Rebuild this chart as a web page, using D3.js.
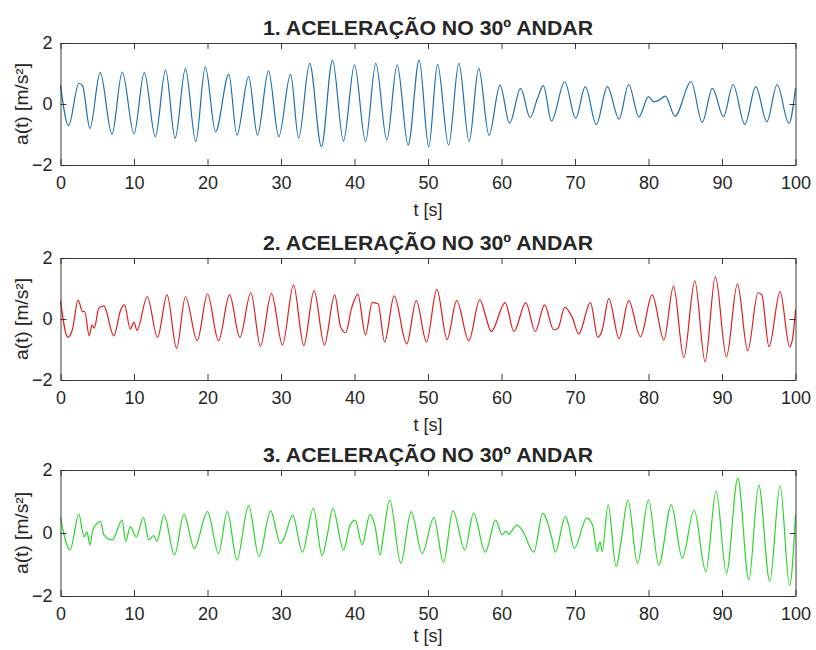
<!DOCTYPE html>
<html lang="pt">
<head>
    <meta charset="UTF-8">
    <title>Aceleração no 30º andar</title>
    <style>
        body {
            margin: 0;
            background: #fff;
        }
        svg text {
            font-family: "Liberation Sans", Arial, sans-serif;
            fill: #262626;
        }
    </style>
</head>
<body>
    <svg id="chart" width="816" height="650"></svg>
    <script src="https://d3js.org/d3.v7.min.js"></script>
    <script>
        // valores (t em s, a em m/s²)
        const t1 = [0, 1.1, 2.5, 3.0, 4.0, 5.4, 7.0, 8.4, 10.0, 11.4, 12.9, 14.3, 15.6, 17.0, 18.4, 19.7, 21.1, 22.9, 24.0, 25.6, 26.8, 28.3, 29.7, 31.3, 32.4, 33.9, 35.5, 37.0, 38.5, 40.0, 41.5, 42.9, 44.4, 45.8, 47.3, 48.8, 50.1, 51.3, 52.8, 54.2, 55.6, 56.9, 58.3, 59.8, 61.1, 62.6, 63.9, 64.9, 65.7, 66.8, 68.6, 70.1, 71.4, 72.9, 74.4, 76.0, 77.3, 78.7, 80.0, 80.7, 81.4, 82.3, 83.6, 85.8, 87.3, 88.7, 90.2, 91.5, 93.1, 94.6, 96.1, 97.5, 99.1, 100];
        const a1 = [0.62, -0.71, 0.68, 0.6, -0.8, 1.03, -0.99, 1.05, -0.97, 1.03, -1.07, 1.11, -1.12, 1.16, -1.23, 1.22, -0.91, 0.97, -1.02, 0.9, -1.02, 1.08, -1.07, 0.97, -1.12, 1.33, -1.4, 1.44, -1.21, 1.28, -1.23, 1.33, -1.18, 1.28, -1.35, 1.44, -1.4, 1.3, -1.35, 1.33, -1.23, 1.17, -1.02, 0.62, -0.63, 0.51, -0.45, 0.19, 0.6, -0.56, 0.73, -0.47, 0.57, -0.67, 0.57, -0.49, 0.64, -0.42, 0.24, 0.08, 0.12, 0.26, -0.4, 0.73, -0.6, 0.51, -0.42, 0.64, -0.67, 0.57, -0.58, 0.64, -0.64, 0.51];

        const t2 = [0, 1.0, 1.6, 2.4, 3.0, 3.3, 3.9, 4.3, 4.6, 5.2, 5.9, 7.25, 8.2, 8.7, 9.5, 10.0, 10.4, 11.8, 13.2, 14.5, 15.8, 17.0, 18.6, 20.0, 21.5, 23.0, 24.4, 25.9, 27.2, 28.7, 30.2, 31.7, 33.1, 34.5, 35.9, 37.3, 38.1, 38.8, 39.6, 40.45, 41.5, 42.4, 43.2, 44.1, 45.4, 47.1, 48.4, 49.8, 51.2, 52.6, 53.9, 55.55, 57.05, 57.8, 58.6, 60.5, 61.7, 63.3, 64.6, 65.85, 67.1, 67.7, 68.6, 69.6, 70.5, 72.1, 73.1, 73.7, 74.6, 76.0, 77.3, 78.9, 80.5, 82.1, 83.4, 84.8, 86.3, 87.7, 89.1, 90.6, 92.1, 93.5, 94.9, 95.4, 96.4, 97.9, 99.2, 99.6, 100];
        const a2 = [0.6, -0.6, -0.36, 0.62, 0.24, 0.24, -0.55, -0.2, -0.3, 0.35, 0.43, -0.55, 0.3, 0.46, -0.33, -0.1, -0.37, 0.73, -0.6, 0.79, -0.96, 0.73, -0.71, 0.82, -0.71, 0.79, -0.6, 0.86, -0.89, 0.84, -0.85, 1.11, -0.87, 0.93, -0.85, 0.79, -0.25, -0.45, 0.35, 0.81, -0.52, 0.54, 0.5, -0.75, 0.76, -0.82, 0.6, -0.75, 0.97, -0.67, 0.6, -0.71, 0.64, 0.13, -0.41, 0.54, -0.41, 0.54, -0.41, 0.46, -0.36, -0.3, 0.38, 0.07, -0.49, 0.54, -0.6, -0.36, 0.67, -0.64, 0.6, -0.58, 0.79, -0.69, 1.08, -1.26, 1.25, -1.4, 1.39, -1.24, 1.15, -1.04, 0.86, 0.8, -0.91, 0.9, -0.91, -0.64, 0.3];

        const t3 = [0, 1.3, 2.5, 3.2, 3.6, 4.0, 4.4, 5.44, 5.9, 7.03, 8.4, 8.85, 9.5, 10.3, 11.3, 12.0, 12.7, 13.1, 14.1, 15.5, 16.8, 18.2, 20.0, 21.5, 22.7, 24.0, 25.6, 27.0, 28.6, 29.9, 30.4, 31.6, 32.9, 34.4, 35.6, 36.3, 37.05, 38.5, 39.4, 40.1, 41.05, 42.1, 42.8, 43.5, 43.9, 44.8, 46.3, 47.7, 49.2, 50.8, 52.1, 53.4, 55.0, 56.2, 57.8, 59.2, 60.1, 60.6, 61.0, 61.6, 62.1, 62.8, 64.4, 65.6, 66.9, 67.3, 68.7, 69.1, 69.9, 71.6, 72.4, 73.0, 73.4, 73.7, 74.5, 75.6, 76.2, 77.2, 78.5, 80.0, 81.4, 83.1, 84.6, 86.2, 87.8, 89.2, 90.6, 92.15, 93.65, 95.0, 96.5, 97.9, 99.2, 100];
        const a3 = [0.49, -0.54, 0.59, -0.12, 0.04, -0.38, 0.1, 0.36, -0.06, -0.22, 0.41, -0.27, 0.2, -0.12, 0.49, -0.22, -0.08, -0.27, 0.57, -0.7, 0.59, -0.49, 0.68, -0.65, 0.68, -0.86, 0.87, -0.75, 0.7, -0.33, -0.17, 0.57, -0.61, 0.78, -0.72, -0.06, 0.78, -0.54, 0.25, 0.41, -0.38, 0.59, 0.2, -0.7, -0.12, 1.05, -0.96, 0.68, -0.65, 0.49, -0.93, 0.7, -0.54, 0.62, -0.61, 0.41, -0.06, 0.06, -0.04, 0.14, 0.25, 0.1, -0.61, 0.62, -0.22, -0.61, 0.52, 0.28, -0.49, 0.47, 0.25, -0.59, -0.28, -0.59, 0.89, -1.07, -0.38, 1.05, -0.96, 1.05, -1.02, 0.89, -0.8, 0.73, -1.23, 1.33, -1.28, 1.74, -1.49, 1.52, -1.54, 1.5, -1.67, 0.57];

        const titles = ['1. ACELERAÇÃO NO 30º ANDAR', '2. ACELERAÇÃO NO 30º ANDAR', '3. ACELERAÇÃO NO 30º ANDAR'];
        const xTicks = [0, 10, 20, 30, 40, 50, 60, 70, 80, 90, 100];
        const yTicks = [-2, 0, 2];
        const yLabel = 'a(t) [m/s²]';
        const xLabel = 't [s]';

        const svg = d3.select('#chart');
        const left = 60.5, right = 795.5;
        const panels = [
            { t: t1, a: a1, color: '#1f6fae', top: 43, bottom: 165, labelGap: 51 },
            { t: t2, a: a2, color: '#dd1c1c', top: 258, bottom: 380, labelGap: 51 },
            { t: t3, a: a3, color: '#2bd42b', top: 470, bottom: 596, labelGap: 46 }
        ];

        const x = d3.scaleLinear().domain([0, 100]).range([left, right]);

        panels.forEach((p, i) => {
            const y = d3.scaleLinear().domain([-2, 2]).range([p.bottom, p.top]);
            const g = svg.append('g');
            const data = p.t.map((t, k) => [t, p.a[k]]);

            g.append('path')
                .datum(data)
                .attr('fill', 'none')
                .attr('stroke', p.color)
                .attr('stroke-width', 1.2)
                .attr('stroke-linejoin', 'round')
                .attr('d', d3.line()
                    .x(d => x(d[0]))
                    .y(d => y(d[1]))
                    .curve(d3.curveMonotoneX));

            // caixa e marcas (estilo matlab)
            const bottomAxis = d3.axisBottom(x).tickValues(xTicks).tickSizeInner(-6).tickSizeOuter(0).tickPadding(11);
            const topAxis = d3.axisTop(x).tickValues(xTicks).tickSizeInner(-6).tickSizeOuter(0).tickFormat('');
            const leftAxis = d3.axisLeft(y).tickValues(yTicks).tickSizeInner(-6).tickSizeOuter(0).tickPadding(8).tickFormat(d3.format('d'));
            const rightAxis = d3.axisRight(y).tickValues(yTicks).tickSizeInner(-6).tickSizeOuter(0).tickFormat('');

            g.append('g').attr('transform', `translate(0,${p.bottom})`).call(bottomAxis);
            g.append('g').attr('transform', `translate(0,${p.top})`).call(topAxis);
            g.append('g').attr('transform', `translate(${left},0)`).call(leftAxis);
            g.append('g').attr('transform', `translate(${right},0)`).call(rightAxis);

            g.selectAll('.domain, .tick line').attr('stroke', '#262626').attr('stroke-width', 0.9);
            g.selectAll('.tick text')
                .style('font-size', '18px')
                .style('font-family', '"Liberation Sans", Arial, sans-serif')
                .attr('fill', '#262626');

            g.append('text')
                .attr('x', (left + right) / 2)
                .attr('y', p.top - 8)
                .attr('text-anchor', 'middle')
                .style('font-size', '20px')
                .style('font-weight', 'bold')
                .attr('textLength', 330)
                .attr('lengthAdjust', 'spacingAndGlyphs')
                .text(titles[i]);

            g.append('text')
                .attr('x', (left + right) / 2)
                .attr('y', p.bottom + p.labelGap)
                .attr('text-anchor', 'middle')
                .style('font-size', '18px')
                .text(xLabel);

            g.append('text')
                .attr('transform', `translate(28,${(p.top + p.bottom) / 2}) rotate(-90)`)
                .attr('text-anchor', 'middle')
                .style('font-size', '18px')
                .attr('textLength', 82)
                .attr('lengthAdjust', 'spacingAndGlyphs')
                .text(yLabel);
        });
    </script>
</body>
</html>
